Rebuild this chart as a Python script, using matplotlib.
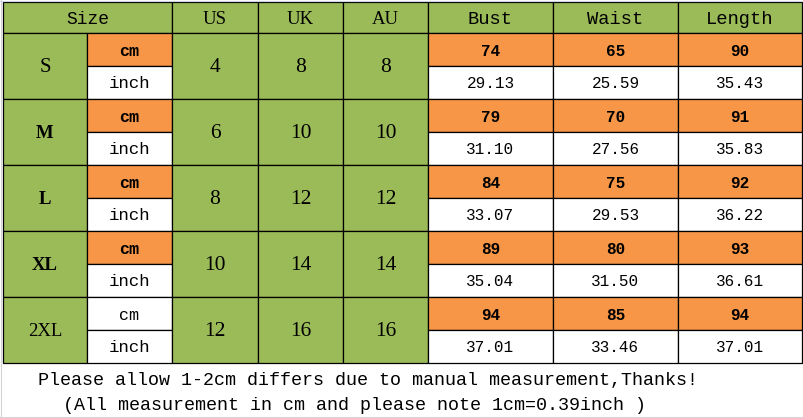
import matplotlib.pyplot as plt
from matplotlib.patches import Rectangle

# table data
header = ['US', 'UK', 'AU', 'Bust', 'Waist', 'Length']
sizes = ['S', 'M', 'L', 'XL', '2XL']
us = [4, 6, 8, 10, 12]
uk = [8, 10, 12, 14, 16]
au = [8, 10, 12, 14, 16]
bust_cm = [74, 79, 84, 89, 94]
waist_cm = [65, 70, 75, 80, 85]
length_cm = [90, 91, 92, 93, 94]
bust_in = ['29.13', '31.10', '33.07', '35.04', '37.01']
waist_in = ['25.59', '27.56', '29.53', '31.50', '33.46']
length_in = ['35.43', '35.83', '36.22', '36.61', '37.01']
note1 = 'Please allow 1-2cm differs due to manual measurement,Thanks!'
note2 = '(All measurement in cm and please note 1cm=0.39inch )'

GREEN = '#9bbb59'
ORANGE = '#f79646'
MONO = 'Liberation Mono'
SERIF = 'Liberation Serif'

# layout in pixels
cols = [3, 87, 172, 258, 343, 428, 553, 678, 802]
top = 2
rh = 33
hdr_bot = 33

fig = plt.figure(figsize=(8.04, 4.18), dpi=100)
ax = fig.add_axes([0, 0, 1, 1])
ax.set_xlim(0, 804)
ax.set_ylim(418, 0)
ax.axis('off')

# faint spreadsheet grid around the table
ax.plot([1.5, 1.5], [0, 418], color='#d4d4d4', lw=0.8)
ax.plot([0, 804], [0.8, 0.8], color='#c9d3e3', lw=0.8)
ax.plot([0, 804], [416.5, 416.5], color='#d4d4d4', lw=0.8)


def cell(x0, x1, y0, y1, color, text='', family=MONO, size=11, weight='normal'):
	ax.add_patch(Rectangle((x0, y0), x1 - x0, y1 - y0, facecolor=color,
		edgecolor='black', lw=0.9))
	if text != '':
		ax.text((x0 + x1) / 2, (y0 + y1) / 2 + 1.5, str(text), ha='center', va='center',
			family=family, fontsize=size, fontweight=weight, color='black')


# header row
cell(cols[0], cols[2], top, hdr_bot, GREEN, 'Size', MONO, 13)
for j, h in enumerate(header):
	fam = SERIF if j < 3 else MONO
	cell(cols[j + 2], cols[j + 3], top, hdr_bot, GREEN, h, fam, 13.5)

meas_cm = [bust_cm, waist_cm, length_cm]
meas_in = [bust_in, waist_in, length_in]
for i, s in enumerate(sizes):
	y0 = hdr_bot + 2 * i * rh
	ym = y0 + rh
	y1 = ym + rh
	if s == 'S':
		cell(cols[0], cols[1], y0, y1, GREEN, s, SERIF, 15)
	elif s == '2XL':
		cell(cols[0], cols[1], y0, y1, GREEN, s, SERIF, 13.5)
	else:
		cell(cols[0], cols[1], y0, y1, GREEN, s, SERIF, 13.5, 'bold')
	last = (s == '2XL')
	cm_col = 'white' if last else ORANGE
	cell(cols[1], cols[2], y0, ym, cm_col, 'cm', MONO, 12, 'normal' if last else 'bold')
	cell(cols[1], cols[2], ym, y1, 'white', 'inch', MONO, 12.5)
	for j, v in enumerate([us[i], uk[i], au[i]]):
		cell(cols[j + 2], cols[j + 3], y0, y1, GREEN, v, SERIF, 15.5)
	for j in range(3):
		cell(cols[j + 5], cols[j + 6], y0, ym, ORANGE, meas_cm[j][i], MONO, 11.5, 'bold')
		cell(cols[j + 5], cols[j + 6], ym, y1, 'white', meas_in[j][i], MONO, 11.5)

ax.text(38, 381, note1, ha='left', va='center', family=MONO, fontsize=13.2)
ax.text(63, 405, note2, ha='left', va='center', family=MONO, fontsize=13.2)

fig.savefig('out.png', dpi=100)
